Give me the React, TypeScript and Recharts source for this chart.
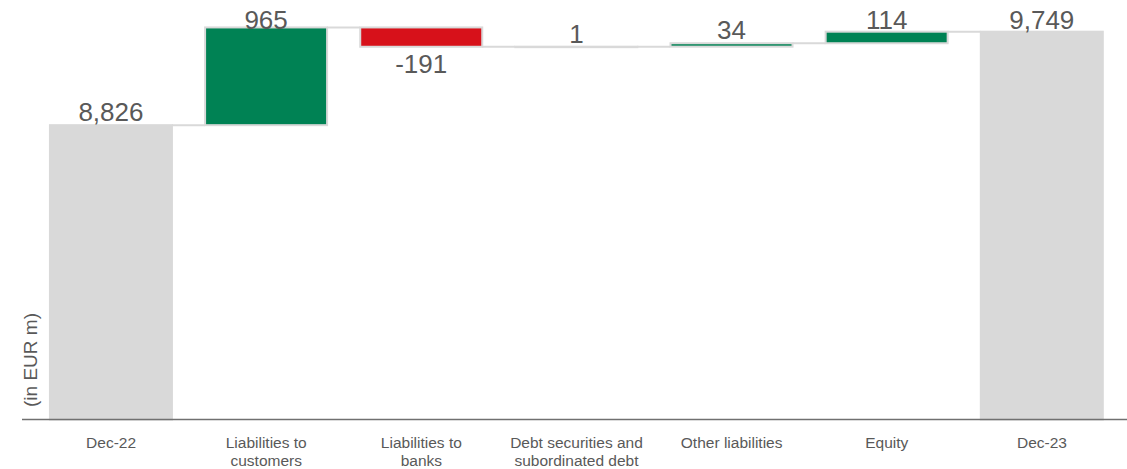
import { BarChart, Bar, XAxis, YAxis, LabelList } from "recharts";

const categories = [
  "Dec-22",
  "Liabilities to\ncustomers",
  "Liabilities to\nbanks",
  "Debt securities and\nsubordinated debt",
  "Other liabilities",
  "Equity",
  "Dec-23",
];
// first and last are totals, the rest are changes
const values = [8826, 965, -191, 1, 34, 114, 9749];
const isTotal = [true, false, false, false, false, false, true];

const AXIS_MIN = 5920;
const AXIS_MAX = 9815;
const GAP = 0.106;

const GREY = "#d9d9d9";
const GREEN = "#008254";
const RED = "#d7111a";
const TEXT = "#595959";
const FONT = "'Liberation Sans', Arial, sans-serif";

let running = 0;
const data = categories.map((name, i) => {
  const v = values[i];
  let low: number, high: number;
  if (isTotal[i]) {
    running = v;
    low = AXIS_MIN;
    high = v;
  } else {
    const start = running;
    running += v;
    low = Math.min(start, running);
    high = Math.max(start, running);
  }
  return {
    name,
    range: [low, high],
    value: v,
    total: isTotal[i],
    last: i === categories.length - 1,
  };
});

const WaterfallBar = (props: any) => {
  const { x, y, width, height, payload } = props;
  const top = Math.min(y, y + height);
  const h = Math.max(Math.abs(height), 0.5);
  const fill = payload.total ? GREY : payload.value >= 0 ? GREEN : RED;
  const endY = payload.total || payload.value >= 0 ? top : top + Math.abs(height);
  const gap = (width * 2 * GAP) / (1 - 2 * GAP);
  return (
    <g>
      <rect x={x} y={top} width={width} height={h} fill={fill} stroke={GREY} strokeWidth={2} />
      {!payload.last && (
        <line x1={x + width} x2={x + width + gap} y1={endY} y2={endY} stroke={GREY} strokeWidth={2} />
      )}
    </g>
  );
};

const ValueLabel = (props: any) => {
  const { x, y, width, height, value } = props;
  const top = Math.min(y, y + height);
  const bottom = Math.max(y, y + height);
  const ty = value < 0 ? bottom + 26 : Math.max(top - 4, 29);
  const text = value.toLocaleString("en-US");
  return (
    <text x={x + width / 2} y={ty} textAnchor="middle" fontSize={26} fill={TEXT} fontFamily={FONT}>
      {text}
    </text>
  );
};

const CategoryTick = ({ x, y, payload }: any) => {
  const lines = String(payload.value).split("\n");
  return (
    <text x={x} y={y} textAnchor="middle" fontSize={15.5} fill={TEXT} fontFamily={FONT}>
      {lines.map((l, i) => (
        <tspan key={i} x={x} dy={i === 0 ? 20.5 : 17.5}>
          {l}
        </tspan>
      ))}
    </text>
  );
};

const UnitLabel = () => (
  <text
    x={37}
    y={360}
    transform="rotate(-90, 37, 360)"
    textAnchor="middle"
    fontSize={19}
    fill={TEXT}
    fontFamily={FONT}
  >
    (in EUR m)
  </text>
);

export default function App() {
  return (
    <div style={{ position: "absolute", left: 0, top: 0, background: "#fff" }}>
      <BarChart
        width={1127}
        height={469}
        data={data}
        margin={{ top: 25, right: 0, bottom: 0, left: 0 }}
        barCategoryGap={`${GAP * 100}%`}
      >
        <XAxis
          dataKey="name"
          height={49.5}
          padding={{ left: 11.5, right: 7.5 }}
          axisLine={{ stroke: "#707070", strokeWidth: 1.5 }}
          tickLine={false}
          tick={<CategoryTick />}
          interval={0}
        />
        <YAxis width={22} domain={[AXIS_MIN, AXIS_MAX]} tick={false} axisLine={false} tickLine={false} />
        <Bar dataKey="range" shape={<WaterfallBar />} isAnimationActive={false}>
          <LabelList dataKey="value" content={<ValueLabel />} />
        </Bar>
        <UnitLabel />
      </BarChart>
    </div>
  );
}
